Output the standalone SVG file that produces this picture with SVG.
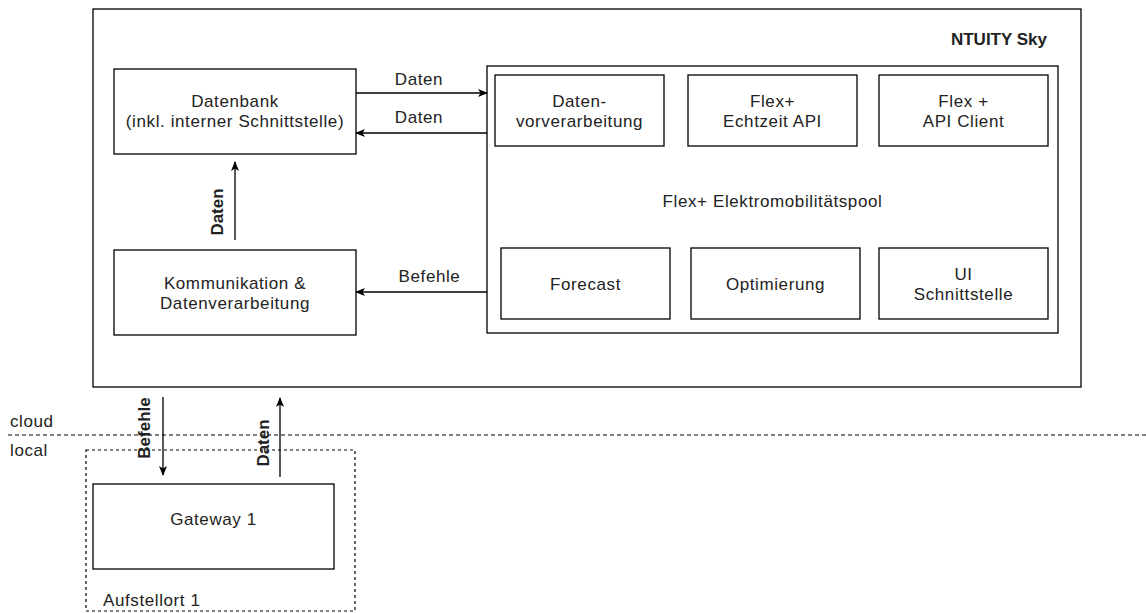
<svg xmlns="http://www.w3.org/2000/svg" width="1146" height="613" viewBox="0 0 1146 613">
<style>
.box{fill:#fff;stroke:#000;stroke-width:1.3}
.dash{fill:none;stroke:#000;stroke-width:1.2;stroke-dasharray:3 3}
.t{font-family:"Liberation Sans",Arial,sans-serif;font-size:17px;fill:#222;text-anchor:middle;letter-spacing:0.6px}
.b{font-weight:bold;letter-spacing:0}
.l{text-anchor:start}
.e{stroke:#000;stroke-width:1.3;fill:none;marker-end:url(#arr)}
</style>
<defs>
<marker id="arr" viewBox="0 0 10 10" refX="9" refY="5" markerWidth="10" markerHeight="10" markerUnits="userSpaceOnUse" orient="auto">
<path d="M0,1 L10,5 L0,9 L2.5,5 Z" fill="#000"/>
</marker>
</defs>
<rect width="1146" height="613" fill="#fff"/>

<g id="ntuity-sky">
<rect class="box" x="93" y="9" width="988" height="378"/>
<text class="t b" x="1047" y="45" style="text-anchor:end">NTUITY Sky</text>
</g>

<g id="pool">
<rect class="box" x="487" y="66" width="571" height="267"/>
<text class="t" x="772.5" y="207">Flex+ Elektromobilitätspool</text>
</g>

<g id="datenbank">
<rect class="box" x="114" y="69" width="242" height="85"/>
<text class="t" x="235" y="107">Datenbank</text>
<text class="t" x="235" y="127">(inkl. interner Schnittstelle)</text>
</g>

<g id="kommunikation">
<rect class="box" x="114" y="250" width="242" height="85"/>
<text class="t" x="235" y="289">Kommunikation &amp;</text>
<text class="t" x="235" y="309">Datenverarbeitung</text>
</g>

<g id="datenvorverarbeitung">
<rect class="box" x="495" y="75" width="169" height="71"/>
<text class="t" x="579.5" y="107">Daten-</text>
<text class="t" x="579.5" y="127">vorverarbeitung</text>
</g>

<g id="echtzeit-api">
<rect class="box" x="688" y="75" width="169" height="71"/>
<text class="t" x="772.5" y="107">Flex+</text>
<text class="t" x="772.5" y="127">Echtzeit API</text>
</g>

<g id="api-client">
<rect class="box" x="879" y="75" width="169" height="71"/>
<text class="t" x="963.5" y="107">Flex +</text>
<text class="t" x="963.5" y="127">API Client</text>
</g>

<g id="forecast">
<rect class="box" x="501" y="248" width="169" height="71"/>
<text class="t" x="585.5" y="290">Forecast</text>
</g>

<g id="optimierung">
<rect class="box" x="691" y="248" width="169" height="71"/>
<text class="t" x="775.5" y="290">Optimierung</text>
</g>

<g id="ui-schnittstelle">
<rect class="box" x="879" y="248" width="169" height="71"/>
<text class="t" x="963.5" y="280">UI</text>
<text class="t" x="963.5" y="300">Schnittstelle</text>
</g>

<g id="boundary">
<line x1="8" y1="435" x2="1146" y2="435" stroke="#000" stroke-width="1.2" stroke-dasharray="4 3"/>
<text class="t l" x="10" y="427">cloud</text>
<text class="t l" x="10" y="456">local</text>
</g>

<g id="aufstellort-1">
<rect class="dash" x="86" y="450" width="269" height="161"/>
<text class="t l" x="103" y="606">Aufstellort 1</text>
</g>

<g id="gateway-1">
<rect class="box" x="93" y="484" width="241" height="85"/>
<text class="t" x="213.5" y="525">Gateway 1</text>
</g>

<g id="connectors">
<line class="e" x1="356" y1="93" x2="487" y2="93"/>
<text class="t" x="419" y="85">Daten</text>
<line class="e" x1="487" y1="133" x2="356" y2="133"/>
<text class="t" x="419" y="123">Daten</text>
<line class="e" x1="487" y1="292" x2="356" y2="292"/>
<text class="t" x="429.5" y="282">Befehle</text>
<line class="e" x1="235" y1="240" x2="235" y2="162"/>
<text class="t b" transform="translate(217,212) rotate(-90)" x="0" y="6">Daten</text>
<line class="e" x1="163" y1="397" x2="163" y2="475"/>
<text class="t b" transform="translate(144,428) rotate(-90)" x="0" y="6">Befehle</text>
<line class="e" x1="280" y1="477" x2="280" y2="398"/>
<text class="t b" transform="translate(263,443) rotate(-90)" x="0" y="6">Daten</text>
</g>
</svg>
